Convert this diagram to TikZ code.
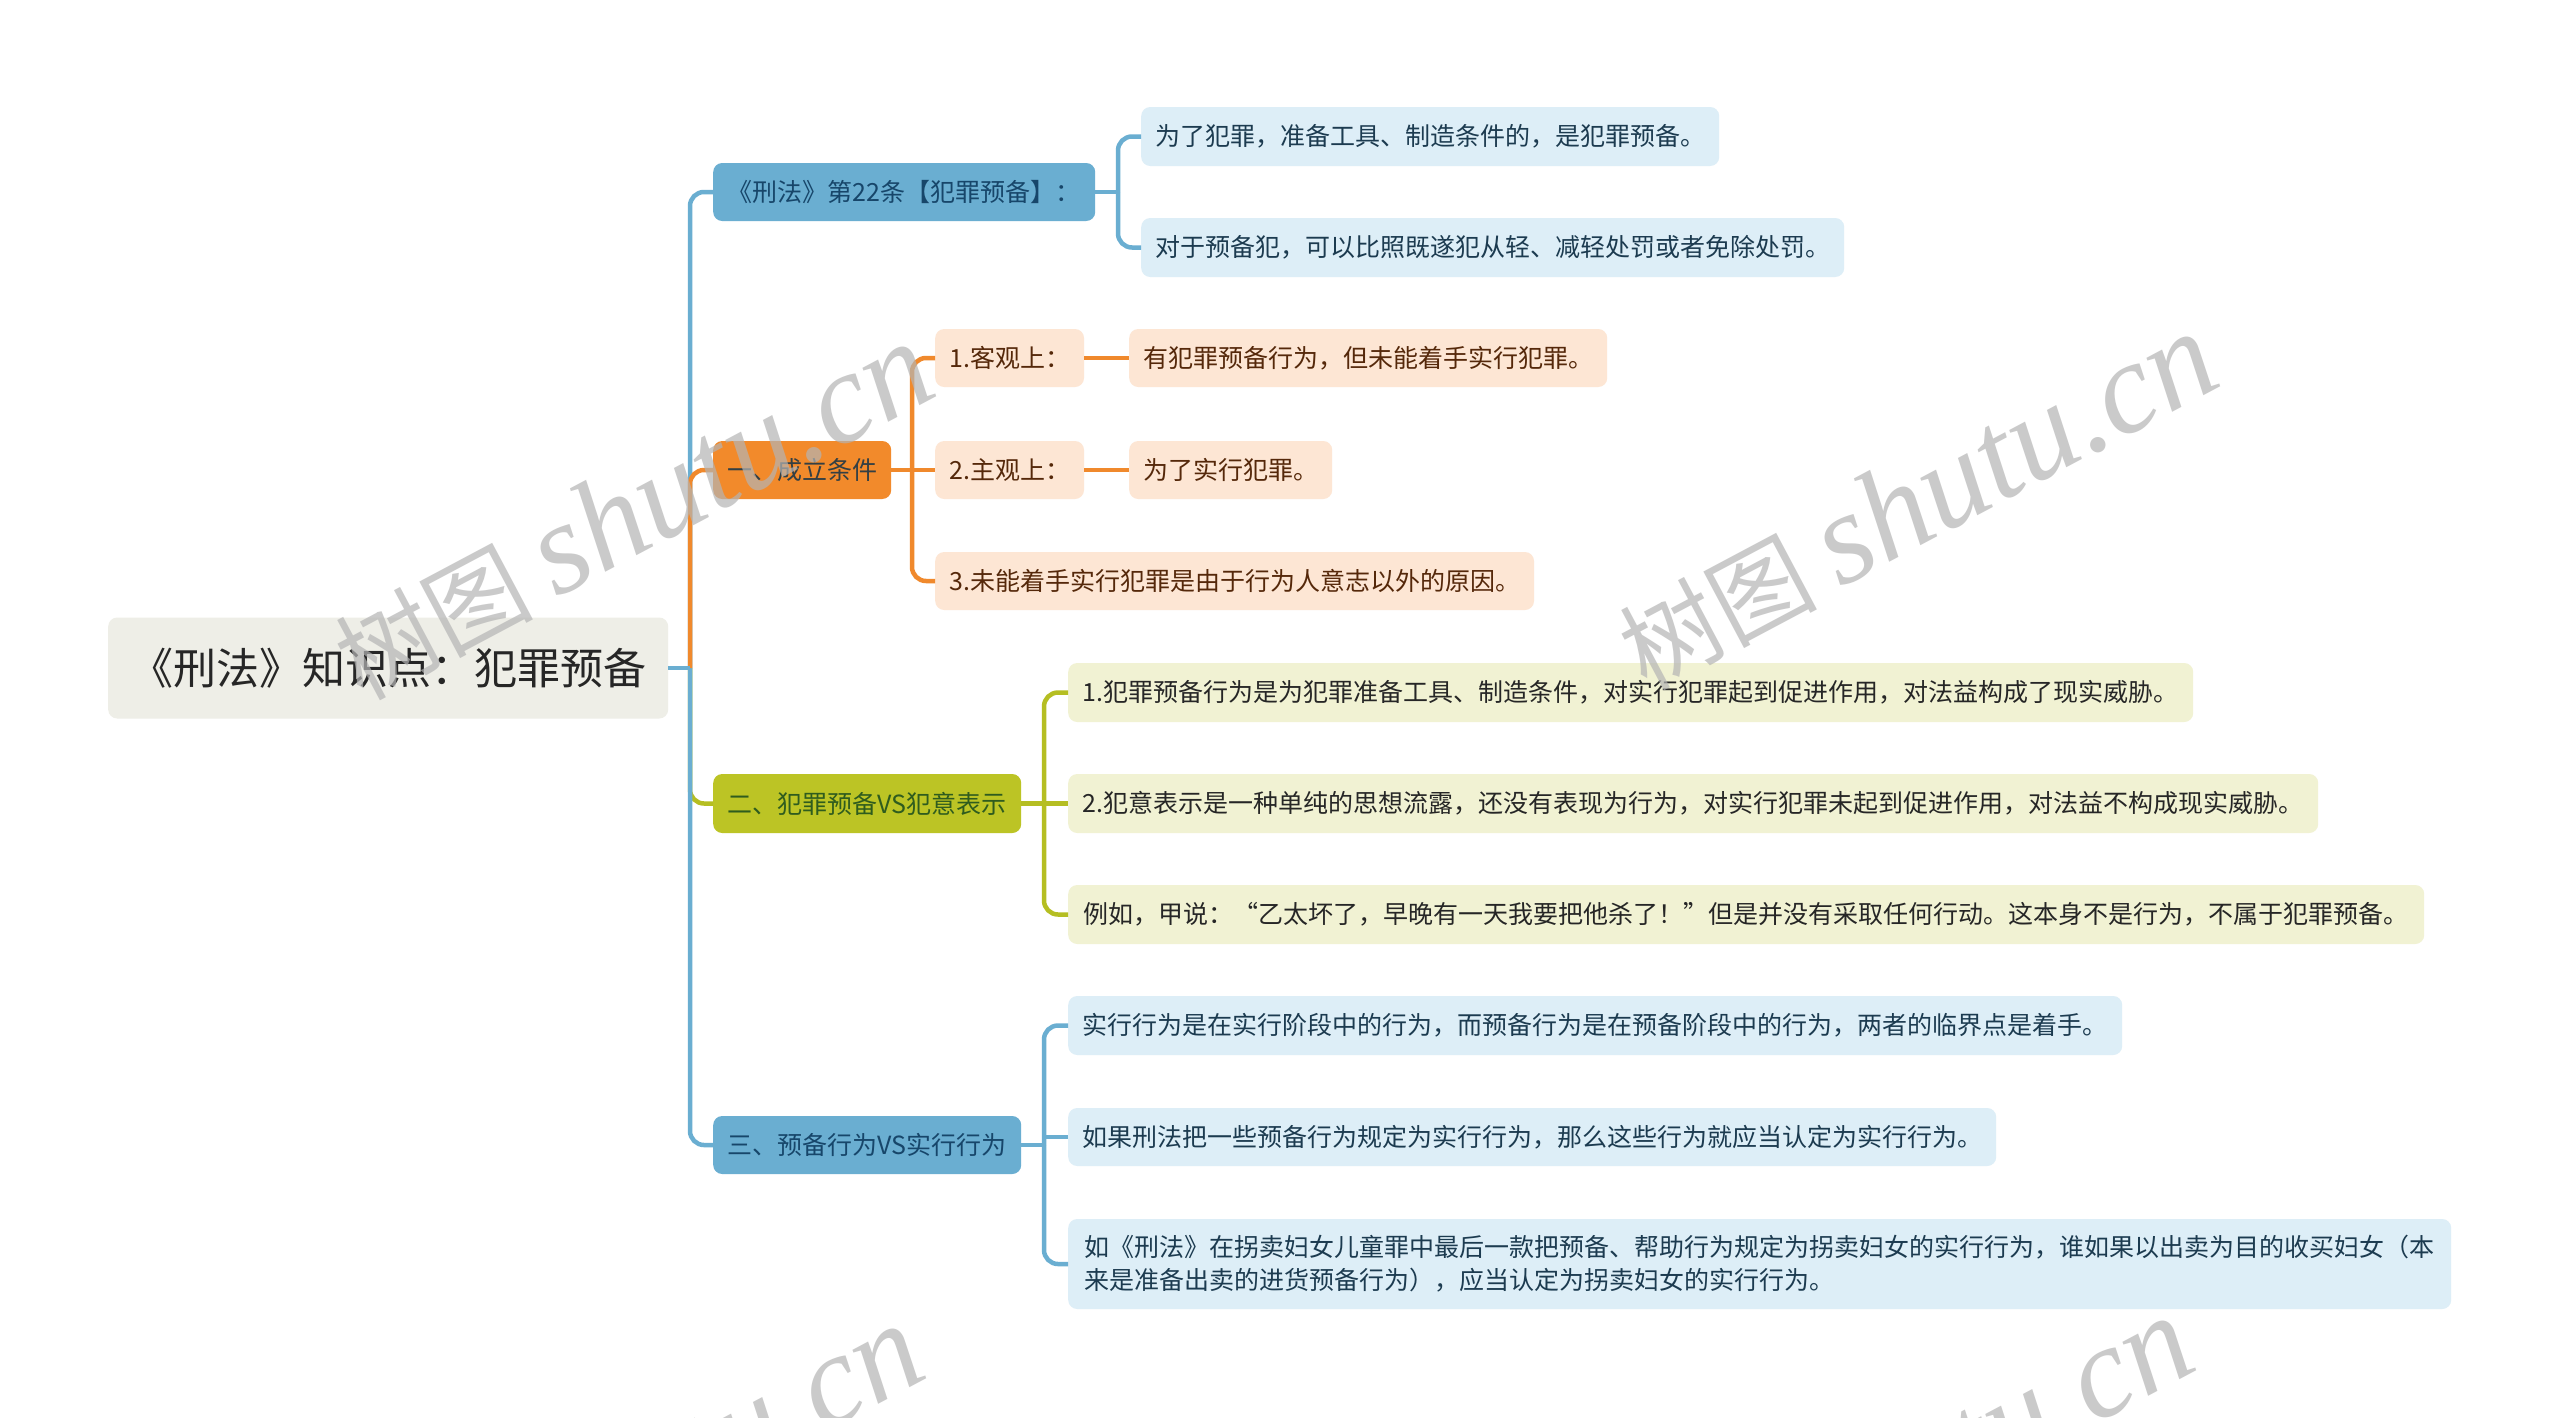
\documentclass[tikz,border=0pt]{standalone}
\usepackage{fontspec}
\setmainfont{Noto Sans CJK SC}
\newfontfamily\wmserif{Liberation Serif}
\newfontfamily\wmcjk{Noto Sans CJK SC}
\usetikzlibrary{calc}
\definecolor{rootfill}{HTML}{EEEEE7}
\definecolor{roottext}{HTML}{262626}
\definecolor{bluefill}{HTML}{6AAED1}
\definecolor{bluetext}{HTML}{17466A}
\definecolor{orangefill}{HTML}{F28A2B}
\definecolor{orangetext}{HTML}{333F44}
\definecolor{olivefill}{HTML}{BCC425}
\definecolor{olivetext}{HTML}{2F5C1E}
\definecolor{lbluefill}{HTML}{DDEEF7}
\definecolor{lbluetext}{HTML}{1C3B50}
\definecolor{lorangefill}{HTML}{FDE6D4}
\definecolor{lorangetext}{HTML}{55280A}
\definecolor{lolivefill}{HTML}{F1F2D3}
\definecolor{lolivetext}{HTML}{262626}
\definecolor{cblue}{HTML}{6AAED1}
\definecolor{corange}{HTML}{F0892C}
\definecolor{colive}{HTML}{B5BE22}
\definecolor{wmgray}{HTML}{B4B4B4}
\newcommand{\wmtext}{{\wmcjk\fontsize{99}{99}\selectfont 树图}\hspace{22pt}{\wmserif\itshape\fontsize{130}{130}\selectfont shutu.cn}}
\tikzset{
  basebox/.style={rounded corners=9pt, inner xsep=14pt, inner ysep=0pt, anchor=west,
    font=\fontsize{25}{33}\selectfont, minimum height=58},
  rootbox/.style={basebox, fill=rootfill, text=roottext, font=\fontsize{43}{50}\selectfont, minimum height=101},
  bluebox/.style={basebox, fill=bluefill, text=bluetext},
  orangebox/.style={basebox, fill=orangefill, text=orangetext},
  olivebox/.style={basebox, fill=olivefill, text=olivetext},
  lbluebox/.style={basebox, fill=lbluefill, text=lbluetext},
  lorangebox/.style={basebox, fill=lorangefill, text=lorangetext},
  lolivebox/.style={basebox, fill=lolivefill, text=lolivetext},
  conn/.style={line width=4.5pt},
  rc/.style={rounded corners=14pt},
  wm/.style={text=wmgray, text opacity=0.7, inner sep=0pt, anchor=base west, rotate=28}
}
\begin{document}
\begin{tikzpicture}[x=1pt,y=-1pt]
\useasboundingbox (0,0) rectangle (2560,1417);
\fill[white] (0,0) rectangle (2560,1417);
\clip (0,0) rectangle (2560,1417);

% root
\node[rootbox, minimum width=560] (root) at (108,668) {《刑法》知识点：犯罪预备};

% level 1
\node[bluebox, minimum width=382] (L1a) at (713,192) {《刑法》第22条【犯罪预备】：};
\node[orangebox, minimum width=177] (L1b) at (713,470) {一、成立条件};
\node[olivebox, minimum width=308, minimum height=59] (L1c) at (713,803.5) {二、犯罪预备VS犯意表示};
\node[bluebox, minimum width=308] (L1d) at (713,1145) {三、预备行为VS实行行为};

% level 2 under L1a
\node[lbluebox, minimum width=578, minimum height=59] (A1) at (1141,136.5) {为了犯罪，准备工具、制造条件的，是犯罪预备。};
\node[lbluebox, minimum width=702, minimum height=59] (A2) at (1141,247.5) {对于预备犯，可以比照既遂犯从轻、减轻处罚或者免除处罚。};

% level 2 under L1b
\node[lorangebox, minimum width=147] (B1) at (935,358) {1.客观上：};
\node[lorangebox, minimum width=147] (B2) at (935,470) {2.主观上：};
\node[lorangebox, minimum width=598] (B3) at (935,581) {3.未能着手实行犯罪是由于行为人意志以外的原因。};
\node[lorangebox, minimum width=477] (B1a) at (1129,358) {有犯罪预备行为，但未能着手实行犯罪。};
\node[lorangebox, minimum width=201] (B2a) at (1129,470) {为了实行犯罪。};

% level 2 under L1c
\node[lolivebox, minimum width=1125, minimum height=59] (C1) at (1068,692.5) {1.犯罪预备行为是为犯罪准备工具、制造条件，对实行犯罪起到促进作用，对法益构成了现实威胁。};
\node[lolivebox, minimum width=1250, minimum height=59] (C2) at (1068,803.5) {2.犯意表示是一种单纯的思想流露，还没有表现为行为，对实行犯罪未起到促进作用，对法益不构成现实威胁。};
\node[lolivebox, minimum width=1356, minimum height=59] (C3) at (1068,914.5) {例如，甲说：“乙太坏了，早晚有一天我要把他杀了！”但是并没有采取任何行动。这本身不是行为，不属于犯罪预备。};

% level 2 under L1d
\node[lbluebox, minimum width=1054, minimum height=59] (D1) at (1068,1025.5) {实行行为是在实行阶段中的行为，而预备行为是在预备阶段中的行为，两者的临界点是着手。};
\node[lbluebox, minimum width=928] (D2) at (1068,1137) {如果刑法把一些预备行为规定为实行行为，那么这些行为就应当认定为实行行为。};
\node[lbluebox, minimum width=1383, minimum height=90, align=left] (D3) at (1068,1264) {如《刑法》在拐卖妇女儿童罪中最后一款把预备、帮助行为规定为拐卖妇女的实行行为，谁如果以出卖为目的收买妇女（本\\来是准备出卖的进货预备行为），应当认定为拐卖妇女的实行行为。};

% junctions
\coordinate (j0) at (690,668);
\coordinate (ja) at (1118,192);
\coordinate (jb) at (912,470);
\coordinate (jc) at (1044,803.5);
\coordinate (jd) at (1044,1145);

% root connectors
\draw[conn, cblue, rc] (j0) |- (L1a.west);
\draw[conn, colive, rc] (j0) |- (L1c.west);
\draw[conn, cblue, rc] (j0) |- (L1d.west);
\draw[conn, corange, rc] (j0) |- (L1b.west);
\draw[conn, cblue] (root.east) -- (j0);

% L1a connectors
\draw[conn, cblue] (L1a.east) -- (ja);
\draw[conn, cblue, rc] (ja) |- (A1.west);
\draw[conn, cblue, rc] (ja) |- (A2.west);

% L1b connectors
\draw[conn, corange, rc] (jb) |- (B1.west);
\draw[conn, corange, rc] (jb) |- (B3.west);
\draw[conn, corange] (L1b.east) -- (B2.west);
\draw[conn, corange] (B1.east) -- (B1a.west);
\draw[conn, corange] (B2.east) -- (B2a.west);

% L1c connectors
\draw[conn, colive, rc] (jc) |- (C1.west);
\draw[conn, colive, rc] (jc) |- (C3.west);
\draw[conn, colive] (L1c.east) -- (C2.west);

% L1d connectors
\draw[conn, cblue] (L1d.east) -- (jd);
\draw[conn, cblue, rc] (jd) |- (D1.west);
\draw[conn, cblue, rc] (jd) |- (D3.west);
\draw[conn, cblue] (jd) -- (jd |- D2.west) -- (D2.west);

% watermarks
\node[wm] (wm1) at (362,702) {\wmtext};
\node[wm] (wm2) at (1646,692) {\wmtext};
\node[wm] (wm3) at (352,1684) {\wmtext};
\node[wm] (wm4) at (1622,1676) {\wmtext};
\end{tikzpicture}
\end{document}
